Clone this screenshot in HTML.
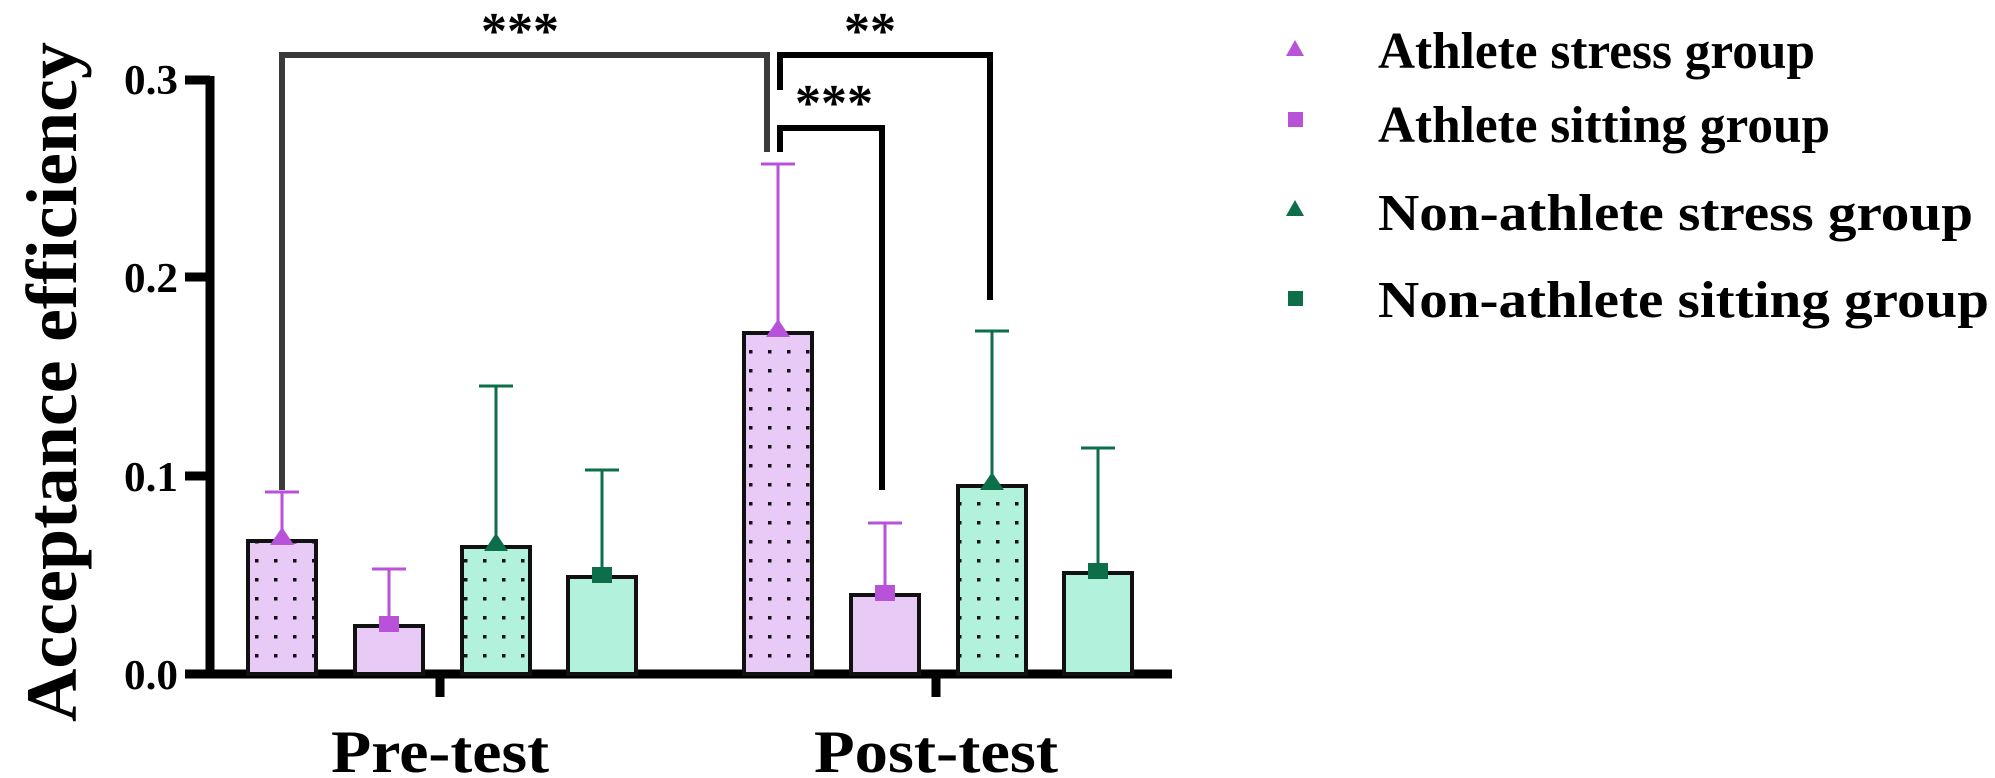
<!DOCTYPE html>
<html><head><meta charset="utf-8"><style>html,body{margin:0;padding:0;background:#fff}svg{display:block}text{font-family:"Liberation Serif","Times New Roman",serif;font-weight:bold}</style></head>
<body>
<svg width="1995" height="778" viewBox="0 0 1995 778" xmlns="http://www.w3.org/2000/svg">
<defs>
<pattern id="dp" width="19" height="19" patternUnits="userSpaceOnUse"><rect width="19" height="19" fill="#e9c9f6"/><rect x="8" y="8" width="3.5" height="3.5" fill="#111"/></pattern>
<pattern id="dg" width="19" height="19" patternUnits="userSpaceOnUse"><rect width="19" height="19" fill="#b2f2dd"/><rect x="8" y="8" width="3.5" height="3.5" fill="#111"/></pattern>
</defs>
<text transform="translate(76,382) rotate(-90)" font-size="72" text-anchor="middle" textLength="680" lengthAdjust="spacingAndGlyphs">Acceptance efficiency</text>
<g font-size="42" text-anchor="end">
<text x="178" y="94" textLength="54" lengthAdjust="spacingAndGlyphs">0.3</text><text x="178" y="292" textLength="54" lengthAdjust="spacingAndGlyphs">0.2</text><text x="178" y="491" textLength="54" lengthAdjust="spacingAndGlyphs">0.1</text><text x="178" y="689" textLength="54" lengthAdjust="spacingAndGlyphs">0.0</text>
</g>
<g stroke="#000" stroke-width="9" fill="none">
<line x1="210" y1="76" x2="210" y2="678"/>
<line x1="185" y1="80" x2="210" y2="80"/><line x1="185" y1="277" x2="210" y2="277"/><line x1="185" y1="476" x2="210" y2="476"/><line x1="185" y1="674" x2="210" y2="674"/>
<line x1="185" y1="674" x2="1172" y2="674"/>
<line x1="440" y1="674" x2="440" y2="697"/><line x1="936" y1="674" x2="936" y2="697"/>
</g>
<g stroke="#111" stroke-width="4">
<rect x="248" y="541" width="68" height="133" fill="url(#dp)"/>
<rect x="355" y="626" width="68" height="48" fill="#e9c9f6"/>
<rect x="462" y="547" width="68" height="127" fill="url(#dg)"/>
<rect x="568" y="577" width="68" height="97" fill="#b2f2dd"/>
<rect x="744" y="333" width="68" height="341" fill="url(#dp)"/>
<rect x="851" y="595" width="68" height="79" fill="#e9c9f6"/>
<rect x="958" y="486" width="68" height="188" fill="url(#dg)"/>
<rect x="1064" y="573" width="68" height="101" fill="#b2f2dd"/>
</g>
<g stroke-width="3" fill="none">
<path stroke="#b752d9" d="M282 541V492M265 492H299"/>
<path stroke="#b752d9" d="M389 626V569M372 569H406"/>
<path stroke="#0d6e4a" d="M496 547V386M479 386H513"/>
<path stroke="#0d6e4a" d="M602 577V470M585 470H619"/>
<path stroke="#b752d9" d="M778 333V164M761 164H795"/>
<path stroke="#b752d9" d="M885 595V523M868 523H902"/>
<path stroke="#0d6e4a" d="M992 486V331M975 331H1009"/>
<path stroke="#0d6e4a" d="M1098 573V448M1081 448H1115"/>
</g>
<g fill="#b752d9"><polygon points="282,527 270,545 294,545"/><rect x="379" y="616" width="20" height="16"/><polygon points="778,319 766,337 790,337"/><rect x="875" y="585" width="20" height="16"/></g>
<g fill="#0d6e4a"><polygon points="496,533 484,551 508,551"/><rect x="592" y="567" width="20" height="16"/><polygon points="992,472 980,490 1004,490"/><rect x="1088" y="563" width="20" height="16"/></g>
<path d="M282 490V55H767V152" stroke="#3a3a3a" stroke-width="6" fill="none"/>
<path d="M780 90V55H990V300" stroke="#000" stroke-width="6" fill="none"/>
<path d="M780 152V128H882V490" stroke="#000" stroke-width="6" fill="none"/>
<g font-size="52" text-anchor="middle">
<text x="520" y="48">***</text><text x="870" y="48">**</text><text x="834" y="120">***</text>
</g>
<g font-size="60" text-anchor="middle">
<text x="440" y="772" textLength="218" lengthAdjust="spacingAndGlyphs">Pre-test</text>
<text x="936" y="772" textLength="244" lengthAdjust="spacingAndGlyphs">Post-test</text>
</g>
<polygon points="1295,40 1286,56 1304,56" fill="#b752d9"/>
<rect x="1288" y="112" width="15" height="15" fill="#b752d9"/>
<polygon points="1295,200 1286,216 1304,216" fill="#0d6e4a"/>
<rect x="1288" y="291" width="15" height="15" fill="#0d6e4a"/>
<g font-size="52">
<text x="1378" y="68" textLength="437" lengthAdjust="spacingAndGlyphs">Athlete stress group</text>
<text x="1378" y="142" textLength="452" lengthAdjust="spacingAndGlyphs">Athlete sitting group</text>
<text x="1378" y="230" textLength="595" lengthAdjust="spacingAndGlyphs">Non-athlete stress group</text>
<text x="1378" y="317" textLength="611" lengthAdjust="spacingAndGlyphs">Non-athlete sitting group</text>
</g>
</svg>
</body></html>
